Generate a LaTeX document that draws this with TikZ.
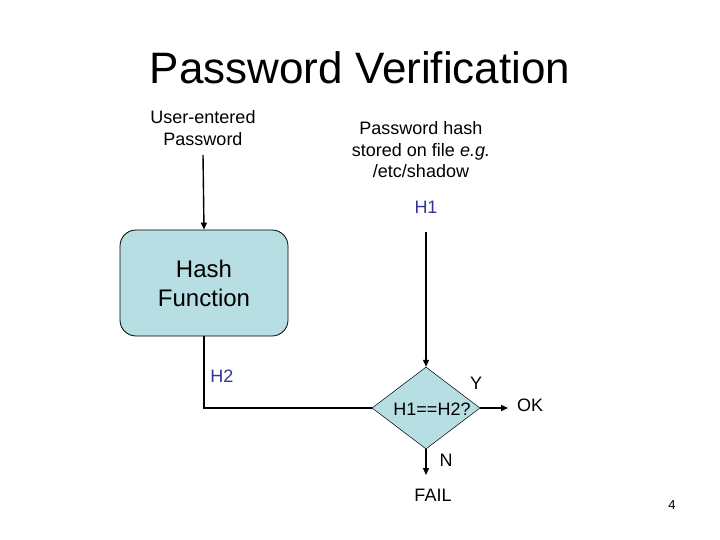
\documentclass[tikz,border=0pt]{standalone}
\usepackage{fontspec}
\setmainfont{Liberation Sans}
\usetikzlibrary{shapes.geometric,arrows.meta}
\definecolor{boxfill}{HTML}{B7DEE3}
\definecolor{navy}{HTML}{333399}
\tikzset{
  arr/.style={line width=1.4pt,-{Triangle[length=7pt,width=6pt]}},
  conn/.style={line width=1.4pt},
  txt/.style={font=\fontsize{18}{21.5}\selectfont,align=center,inner sep=0pt},
  lbl/.style={txt,text=navy},
}
\begin{document}
\begin{tikzpicture}[x=1pt,y=-1pt]
\useasboundingbox (0,0) rectangle (720,540);
\node[inner sep=0pt,font=\fontsize{44}{50}\selectfont] (title) at (360,68) {Password Verification};
\node[txt] (user) at (203,128) {User-entered\\Password};
\node[txt] (pw) at (421,150) {Password hash\\stored on file \textit{e.g.}\\/etc/shadow};
\node[lbl] (h1) at (426,207) {H1};
\node[draw=black,line width=0.8pt,fill=boxfill,rounded corners=16pt,minimum width=168pt,minimum height=106pt,align=center,font=\fontsize{24}{29}\selectfont] (box) at (204,283) {Hash\\Function};
\node[lbl] (h2) at (222,376) {H2};
\node[diamond,draw=black,line width=0.5pt,fill=boxfill,inner sep=0pt,minimum width=108pt,minimum height=82pt] (dia) at (426,408) {};
\node[txt] (cond) at (432,409) {H1==H2?};
\node[txt] (y) at (476,383) {Y};
\node[txt] (ok) at (530,405) {OK};
\node[txt] (n) at (446,460) {N};
\node[txt] (fail) at (433,495) {FAIL};
\node[inner sep=0pt,font=\fontsize{13}{15}\selectfont] (page) at (672,505) {4};
\coordinate (uend) at (203,155);
\coordinate (h1end) at (426,232);
\coordinate (okend) at (508,408);
\coordinate (failend) at (426,475);
\draw[arr] (uend) -- (box.north);
\draw[arr] (h1end) -- (dia.north);
\draw[conn] (box.south) |- (dia.west);
\draw[arr] (dia.east) -- (okend);
\draw[arr] (dia.south) -- (failend);
\end{tikzpicture}
\end{document}
